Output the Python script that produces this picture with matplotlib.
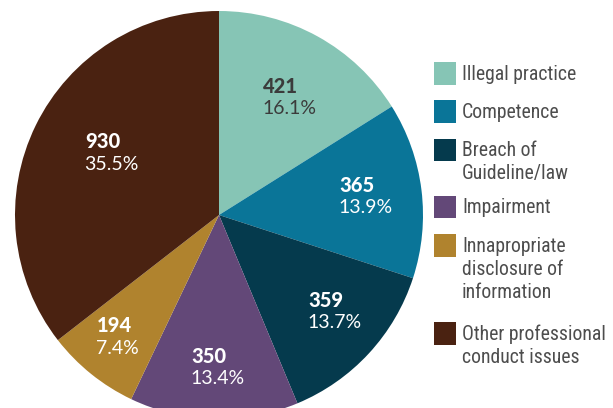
import matplotlib
matplotlib.use("Agg")
import matplotlib.pyplot as plt
from matplotlib.patches import Rectangle
import numpy as np

categories = ["Illegal practice", "Competence", "Breach of\nGuideline/law", "Impairment",
              "Innapropriate\ndisclosure of\ninformation", "Other professional\nconduct issues"]
counts = [421, 365, 359, 350, 194, 930]
pct_labels = ["16.1%", "13.9%", "13.7%", "13.4%", "7.4%", "35.5%"]
colors = ["#86c5b5", "#0a7598", "#053a4d", "#634878", "#b0832e", "#4a2211"]

# styling / layout
label_colors = ["#3b3b3b", "white", "white", "white", "white", "white"]
label_dist = [0.540, 0.588, 0.705, 0.840, 0.907, 0.693]
label_angle_shift = [5.4, -6.15, -9.1, -8.0, -2.5, 7.5]
legend_tops = [62.3, 100.3, 139, 196, 234.3, 322.3]

W, H = 613, 408
fig = plt.figure(figsize=(W / 100, H / 100), dpi=100)
fig.patch.set_facecolor("white")

R = 204
cx, cy = 219, 215
ax = fig.add_axes([(cx - R) / W, (H - cy - R) / H, 2 * R / W, 2 * R / H])
wedges, _ = ax.pie(counts, colors=colors, startangle=90, counterclock=False,
                   radius=1, wedgeprops=dict(linewidth=0))
ax.set_xlim(-1, 1)
ax.set_ylim(-1, 1)
ax.set_aspect("equal")
ax.axis("off")

line_gap = 21.5 / R
for w, n, p, lc, d, sh in zip(wedges, counts, pct_labels, label_colors, label_dist, label_angle_shift):
    ang = np.deg2rad((w.theta1 + w.theta2) / 2 + sh)
    x, y = d * np.cos(ang), d * np.sin(ang)
    ax.text(x, y + line_gap, str(n), ha="left", va="baseline", fontfamily="Lato",
            fontweight="black", fontsize=14.5, color=lc)
    ax.text(x - 0.003, y, p, ha="left", va="baseline", fontfamily="Lato",
            fontweight="normal", fontsize=14, color=lc)

# legend
sq = 22.3
for cat, col, top in zip(categories, colors, legend_tops):
    fig.patches.append(Rectangle((434 / W, (H - top - sq) / H), sq / W, sq / H,
                                 transform=fig.transFigure, facecolor=col, edgecolor="none"))
    for i, line in enumerate(cat.split("\n")):
        base = top + 17.3 + 23 * i
        fig.text(462 / W, (H - base) / H, line, ha="left", va="baseline", fontsize=14.2,
                 fontfamily=["Roboto Condensed", "DejaVu Sans"], color="#4d4d4d")

fig.savefig("out.png", dpi=100, facecolor="white")
